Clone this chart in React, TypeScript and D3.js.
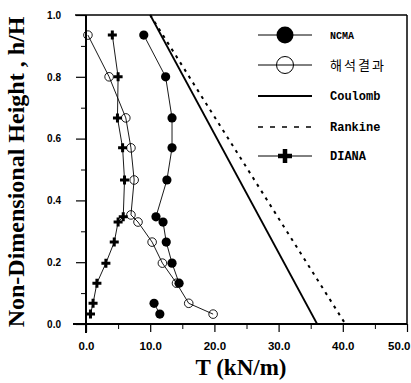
import { useEffect, useRef } from 'react'
import * as d3 from 'd3'

// NCMA (filled circles) — upper run is joined, bottom two sit apart
const NCMA_T = [9.0, 12.4, 13.4, 13.4, 12.6, 10.9, 12.0, 12.5, 13.4, 14.5, 10.6, 11.5]
const NCMA_H = [0.935, 0.8, 0.667, 0.57, 0.466, 0.347, 0.33, 0.265, 0.197, 0.132, 0.067, 0.032]
const NCMA_RUNS = [[0, 10], [10, 12]]

// 해석결과 (open circles)
const FEM_T = [0.3, 3.6, 6.2, 7.0, 7.5, 7.0, 8.1, 10.3, 11.9, 14.1, 16.0, 19.8]
const FEM_H = [0.935, 0.8, 0.667, 0.57, 0.466, 0.353, 0.33, 0.265, 0.197, 0.132, 0.067, 0.032]

// DIANA (crosses)
const DIANA_T = [4.1, 5.0, 4.9, 5.7, 6.0, 5.8, 5.0, 4.4, 3.1, 1.7, 1.1, 0.7]
const DIANA_H = [0.935, 0.8, 0.667, 0.57, 0.466, 0.347, 0.33, 0.265, 0.197, 0.132, 0.067, 0.032]

const COULOMB_T = [10.0, 36.0]
const COULOMB_H = [1.0, 0.0]
const RANKINE_T = [10.0, 40.4]
const RANKINE_H = [1.0, 0.0]

const X_TICKS = [0, 10, 20, 30, 40, 50]
const X_MINOR = [5, 15, 25, 35, 45]
const Y_TICKS = [0, 0.2, 0.4, 0.6, 0.8, 1.0]
const Y_MINOR = [0.1, 0.3, 0.5, 0.7, 0.9]

const LEGEND = ['NCMA', '해석결과', 'Coulomb', 'Rankine', 'DIANA']

const W = 411
const H = 383

export default function App() {
  const svgRef = useRef<SVGSVGElement>(null)

  useEffect(() => {
    const svg = d3.select(svgRef.current)
    svg.selectAll('*').remove()

    const x = d3.scaleLinear().domain([0, 50]).range([86, 407])
    const y = d3.scaleLinear().domain([0, 1]).range([324, 15])
    const tickFont = '"Liberation Sans Narrow", "Liberation Sans", Arial, sans-serif'
    const titleFont = '"Liberation Serif", "Times New Roman", serif'
    const monoFont = '"Liberation Mono", "Courier New", monospace'

    svg.append('rect').attr('width', W).attr('height', H).attr('fill', '#fff')

    // frame
    const frame = svg.append('g').attr('stroke', '#000').attr('fill', 'none')
    frame.append('line').attr('x1', 75).attr('x2', x(50)).attr('y1', y(1)).attr('y2', y(1)).attr('stroke-width', 1.5)
    frame.append('line').attr('x1', x(50)).attr('x2', x(50)).attr('y1', y(1)).attr('y2', y(0)).attr('stroke-width', 1.5)

    // y axis
    const yAxis = svg.append('g').attr('transform', `translate(${x(0)},0)`)
      .call(d3.axisLeft(y).tickValues(Y_TICKS).tickSize(10).tickFormat(d3.format('.1f')))
    yAxis.select('.domain').remove()
    yAxis.selectAll('line').attr('stroke-width', 1.2)
    yAxis.selectAll('text').attr('x', -25).attr('font-family', tickFont).attr('font-size', 10)
      .attr('font-weight', 'bold').attr('fill', '#000')
    svg.append('g').attr('transform', `translate(${x(0)},0)`)
      .call(d3.axisLeft(y).tickValues(Y_MINOR).tickSize(5).tickFormat(() => ''))
      .call((ax) => ax.select('.domain').remove())
    svg.append('line').attr('x1', x(0)).attr('x2', x(0)).attr('y1', y(1)).attr('y2', 333)
      .attr('stroke', '#000').attr('stroke-width', 2)

    // x axis
    const xAxis = svg.append('g').attr('transform', `translate(0,${y(0)})`)
      .call(d3.axisBottom(x).tickValues(X_TICKS).tickSize(8).tickFormat(d3.format('.1f')))
    xAxis.select('.domain').remove()
    xAxis.selectAll('line').attr('stroke-width', 1.2)
    xAxis.selectAll('text').attr('y', 26).attr('dy', 0).attr('font-family', tickFont).attr('font-size', 11.5)
      .attr('font-weight', 'bold').attr('fill', '#000')
    // last label sits against the right edge
    xAxis.selectAll<SVGTextElement, number>('text').filter((d) => d === 50)
      .attr('text-anchor', 'end').attr('x', 3)
    svg.append('g').attr('transform', `translate(0,${y(0)})`)
      .call(d3.axisBottom(x).tickValues(X_MINOR).tickSize(5).tickFormat(() => ''))
      .call((ax) => ax.select('.domain').remove())
    svg.append('line').attr('x1', 73).attr('x2', x(50)).attr('y1', y(0)).attr('y2', y(0))
      .attr('stroke', '#000').attr('stroke-width', 2)

    // titles
    svg.append('text').attr('transform', `translate(24,172) rotate(-90)`).attr('text-anchor', 'middle')
      .attr('font-family', titleFont).attr('font-weight', 'bold').attr('font-size', 24)
      .text('Non-Dimensional Height , h/H')
    svg.append('text').attr('x', 241).attr('y', 375).attr('text-anchor', 'middle')
      .attr('font-family', titleFont).attr('font-weight', 'bold').attr('font-size', 23)
      .text('T (kN/m)')

    const line = d3.line<[number, number]>().x((d) => x(d[0])).y((d) => y(d[1]))
    const zip = (ts: number[], hs: number[]) => ts.map((t, i) => [t, hs[i]] as [number, number])

    // theory lines
    svg.append('path').datum(zip(COULOMB_T, COULOMB_H)).attr('d', line)
      .attr('fill', 'none').attr('stroke', '#000').attr('stroke-width', 1.8)
    svg.append('path').datum(zip(RANKINE_T, RANKINE_H)).attr('d', line)
      .attr('fill', 'none').attr('stroke', '#000').attr('stroke-width', 2).attr('stroke-dasharray', '3,5')

    // series lines
    const ncma = zip(NCMA_T, NCMA_H)
    NCMA_RUNS.forEach(([a, b]) => {
      svg.append('path').datum(ncma.slice(a, b)).attr('d', line)
        .attr('fill', 'none').attr('stroke', '#000').attr('stroke-width', 0.9)
    })
    const fem = zip(FEM_T, FEM_H)
    svg.append('path').datum(fem).attr('d', line).attr('fill', 'none').attr('stroke', '#000').attr('stroke-width', 0.9)
    const diana = zip(DIANA_T, DIANA_H)
    svg.append('path').datum(diana).attr('d', line).attr('fill', 'none').attr('stroke', '#000').attr('stroke-width', 0.9)

    // markers
    svg.append('g').selectAll('circle').data(ncma).join('circle')
      .attr('cx', (d) => x(d[0])).attr('cy', (d) => y(d[1])).attr('r', 4.6).attr('fill', '#000')
    svg.append('g').selectAll('circle').data(fem).join('circle')
      .attr('cx', (d) => x(d[0])).attr('cy', (d) => y(d[1])).attr('r', 4.3)
      .attr('fill', 'none').attr('stroke', '#000').attr('stroke-width', 0.9)
    svg.append('g').selectAll('path').data(diana).join('path')
      .attr('transform', (d) => `translate(${x(d[0])},${y(d[1])})`)
      .attr('d', 'M-4.5,0H4.5M0,-4.5V4.5').attr('stroke', '#000').attr('stroke-width', 3)

    // legend
    const rowY = [35, 65, 96, 127, 156]
    const lg = svg.append('g')
    LEGEND.forEach((name, i) => {
      const ry = rowY[i]
      const row = lg.append('g').attr('transform', `translate(0,${ry})`)
      if (name === 'Rankine') {
        row.append('line').attr('x1', 258).attr('x2', 312).attr('stroke', '#000').attr('stroke-width', 1.5)
          .attr('stroke-dasharray', '5,7')
      } else {
        row.append('line').attr('x1', 258).attr('x2', 312).attr('stroke', '#000')
          .attr('stroke-width', name === 'Coulomb' ? 1.8 : 1)
      }
      if (name === 'NCMA') row.append('circle').attr('cx', 285).attr('r', 8.5).attr('fill', '#000')
      if (name === '해석결과') row.append('circle').attr('cx', 285).attr('r', 8.5).attr('fill', 'none')
        .attr('stroke', '#000').attr('stroke-width', 1)
      if (name === 'DIANA') row.append('path').attr('transform', 'translate(285,0)')
        .attr('d', 'M-7,0H7M0,-7V7').attr('stroke', '#000').attr('stroke-width', 4.5)
      const isKo = name === '해석결과'
      row.append('text').attr('x', 330).attr('dy', '0.35em')
        .attr('font-family', isKo ? '"Noto Sans CJK KR", sans-serif' : monoFont)
        .attr('font-size', isKo ? 13 : name === 'NCMA' ? 10 : 12)
        .attr('font-weight', isKo ? 'normal' : 'bold')
        .attr('letter-spacing', isKo ? 2 : 0)
        .text(name)
    })
  }, [])

  return (
    <svg ref={svgRef} width={W} height={H} style={{ position: 'fixed', left: 0, top: 0, background: '#fff' }} />
  )
}
